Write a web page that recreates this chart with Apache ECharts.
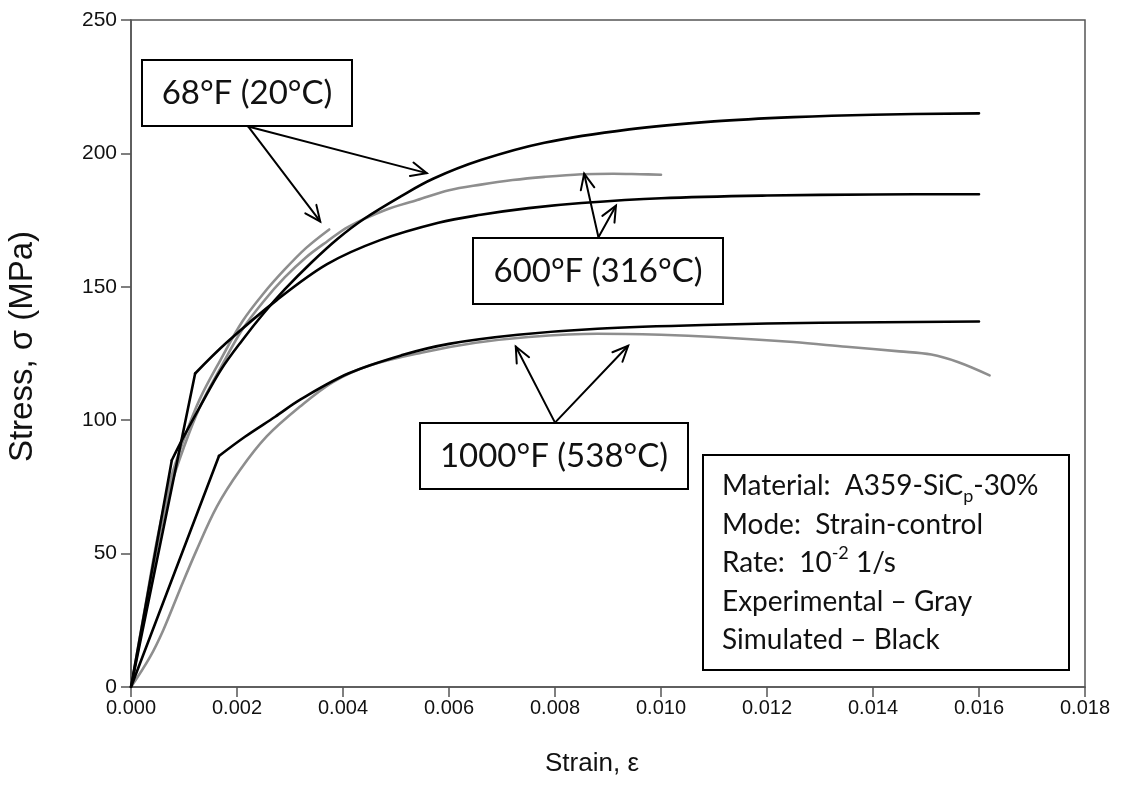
<!DOCTYPE html>
<html>
<head>
<meta charset="utf-8">
<title>Stress-strain curves, A359-SiCp-30%</title>
<script src="https://cdn.jsdelivr.net/npm/echarts@6/dist/echarts.min.js"></script>
<style>
  html, body { margin: 0; padding: 0; background: #fff; }
  #chart { width: 1123px; height: 804px; }
</style>
</head>
<body>
<div id="chart"></div>
<script>
// Strain (mm/mm) vs stress (MPa) at three temperatures.
// Simulated curves (black); the second point is the end of the elastic line.
const sim68 = [
  [0, 0], [0.00077, 85], [0.0010, 94], [0.0013, 105], [0.0017, 119], [0.0021, 130],
  [0.0025, 140], [0.0029, 149], [0.0034, 159], [0.0039, 168], [0.0044, 175.5],
  [0.0051, 184], [0.0057, 190.5], [0.0066, 197.5], [0.0078, 204], [0.0094, 209],
  [0.0110, 212], [0.0125, 213.6], [0.0140, 214.5], [0.0160, 215]
];
const sim600 = [
  [0, 0], [0.00121, 117.5], [0.0018, 129], [0.00275, 145], [0.0037, 158.5],
  [0.0047, 167.5], [0.0058, 174], [0.0066, 177], [0.0075, 179.5], [0.0085, 181.4],
  [0.0100, 183.2], [0.0120, 184.2], [0.0140, 184.6], [0.0160, 184.7]
];
const sim1000 = [
  [0, 0], [0.00166, 86.6], [0.00215, 93.8], [0.00272, 101.3], [0.0032, 107.8],
  [0.0041, 117.5], [0.0051, 124.3], [0.0060, 128.6], [0.0073, 132], [0.0088, 134.3],
  [0.0110, 135.8], [0.0130, 136.5], [0.0160, 137]
];

// Experimental curves (gray)
const exp68 = [
  [0, 0], [0.00025, 28], [0.0005, 56], [0.00075, 78], [0.0010, 93], [0.0013, 108],
  [0.0017, 123], [0.0021, 137], [0.0025, 147.5], [0.0029, 156.5], [0.0033, 164.5],
  [0.00374, 171.5]
];
const exp600 = [
  [0, 0], [0.00025, 26], [0.0005, 53], [0.00075, 75], [0.0010, 90], [0.0013, 105],
  [0.0017, 120], [0.0021, 134], [0.0025, 144.5], [0.0029, 153.5], [0.0033, 161],
  [0.0037, 167], [0.0041, 172.5], [0.0048, 178.8], [0.0054, 182.5], [0.0060, 186.2],
  [0.0066, 188.3], [0.0072, 190], [0.0078, 191.2], [0.0085, 192.2], [0.0091, 192.4],
  [0.0096, 192.2], [0.0100, 192]
];
const exp1000 = [
  [0, 0], [0.00036, 11.3], [0.00061, 21.4], [0.00092, 36.4], [0.00124, 51.4],
  [0.00162, 67.6], [0.00206, 81.4], [0.00256, 93.9], [0.00319, 105.1], [0.00381, 114.3],
  [0.0045, 120.5], [0.0055, 125.4], [0.0065, 129], [0.0075, 131.2], [0.0088, 132.4],
  [0.0100, 132], [0.0110, 131.2], [0.0125, 129.3], [0.0135, 127.5], [0.0145, 125.8],
  [0.0151, 124.6], [0.0156, 121.8], [0.0162, 116.8]
];

// Axis ranges and tick steps
const strainTicks = { min: 0, max: 0.018, step: 0.002 };
const stressTicks = { min: 0, max: 250, step: 50 };

// Temperature call-outs: label, and arrows as [start, tip] in [strain, stress]
const callouts = [
  { text: '68°F (20°C)', arrows: [
      [[0.00221, 210.1], [0.00357, 174.5]],
      [[0.00221, 210.1], [0.00558, 192.6]] ] },
  { text: '600°F (316°C)', arrows: [
      [[0.00882, 168.6], [0.00855, 192.4]],
      [[0.00882, 168.6], [0.00915, 180.4]] ] },
  { text: '1000°F (538°C)', arrows: [
      [[0.0080, 99.1], [0.00726, 127.6]],
      [[0.0080, 99.1], [0.00938, 127.9]] ] }
];

const infoLines = [
  'Material:  A359-SiC{sub|p}-30%',
  'Mode:  Strain-control',
  'Rate:  10{sup|-2} 1/s',
  'Experimental – Gray',
  'Simulated – Black'
];

const BLACK = '#000000';
const GRAY = '#8e8e8e';
const AXIS = '#555555';
const AXIS_FONT = '"Liberation Sans", Arial, sans-serif';
const NOTE_FONT = 'Lato, "Open Sans", sans-serif';

function line(name, data, color, smooth) {
  return {
    name, type: 'line', data, showSymbol: false, symbol: 'none',
    smooth, lineStyle: { color, width: 2.6, cap: 'round', join: 'round' },
    z: color === BLACK ? 3 : 2, silent: true, animation: false
  };
}

// A simulated curve: straight elastic segment, then a smooth hardening branch
function simulated(name, data) {
  return [
    line(name + ' (elastic)', data.slice(0, 2), BLACK, false),
    line(name, data.slice(1), BLACK, 0.35)
  ];
}

const chart = echarts.init(document.getElementById('chart'), null, { renderer: 'canvas' });

chart.setOption({
  backgroundColor: '#ffffff',
  animation: false,
  grid: {
    left: 131, right: 38, top: 20, bottom: 117,
    outerBoundsMode: 'none', containLabel: false,
    show: true, borderColor: AXIS, borderWidth: 1.5, backgroundColor: 'transparent'
  },
  xAxis: {
    type: 'value', min: strainTicks.min, max: strainTicks.max, interval: strainTicks.step,
    name: 'Strain, ε', nameLocation: 'middle', nameGap: 64,
    nameTextStyle: { fontFamily: AXIS_FONT, fontSize: 26, color: '#111', padding: [0, 32, 0, 0] },
    axisLine: { show: true, onZero: false, lineStyle: { color: AXIS, width: 1.5 } },
    axisTick: { show: true, inside: false, length: 10, lineStyle: { color: AXIS, width: 1.5 } },
    axisLabel: { fontFamily: AXIS_FONT, fontSize: 20, color: '#111', margin: 11,
      formatter: v => v.toFixed(3) },
    splitLine: { show: false }
  },
  yAxis: {
    type: 'value', min: stressTicks.min, max: stressTicks.max, interval: stressTicks.step,
    name: 'Stress, σ (MPa)', nameLocation: 'middle', nameGap: 92, nameRotate: 90,
    nameTextStyle: { fontFamily: AXIS_FONT, fontSize: 33, color: '#111', padding: [0, 0, 0, 14] },
    axisLine: { show: true, onZero: false, lineStyle: { color: AXIS, width: 1.5 } },
    axisTick: { show: true, inside: false, length: 10, lineStyle: { color: AXIS, width: 1.5 } },
    axisLabel: { fontFamily: AXIS_FONT, fontSize: 21, color: '#111', margin: 14 },
    splitLine: { show: false }
  },
  series: [
    line('68°F experimental', exp68, GRAY, 0.35),
    line('600°F experimental', exp600, GRAY, 0.35),
    line('1000°F experimental', exp1000, GRAY, 0.35),
    ...simulated('68°F simulated', sim68),
    ...simulated('600°F simulated', sim600),
    ...simulated('1000°F simulated', sim1000)
  ]
});

// Call-out boxes, arrows and the test-condition box
const boxRects = [
  { x: 142, y: 60, w: 210, h: 66, fs: 33 },
  { x: 473, y: 238, w: 250, h: 66, fs: 33 },
  { x: 420, y: 423, w: 268, h: 66, fs: 33 }
];

function arrowShapes(p0, p1) {
  const a = chart.convertToPixel({ gridIndex: 0 }, p0);
  const b = chart.convertToPixel({ gridIndex: 0 }, p1);
  const dx = b[0] - a[0], dy = b[1] - a[1];
  const len = Math.hypot(dx, dy);
  const ux = dx / len, uy = dy / len;
  const head = 17, ang = 0.42;
  const wing = s => {
    const c = Math.cos(s * ang), sn = Math.sin(s * ang);
    const rx = ux * c - uy * sn, ry = ux * sn + uy * c;
    return [b[0] - rx * head, b[1] - ry * head];
  };
  const style = { stroke: '#000', lineWidth: 2, fill: null, lineCap: 'round', lineJoin: 'miter' };
  return [
    { type: 'polyline', shape: { points: [a, b] }, style, z: 20, silent: true },
    { type: 'polyline', shape: { points: [wing(1), b, wing(-1)] }, style, z: 20, silent: true }
  ];
}

const elements = [];
callouts.forEach((c, i) => {
  c.arrows.forEach(ar => elements.push(...arrowShapes(ar[0], ar[1])));
  const r = boxRects[i];
  elements.push({
    type: 'rect', shape: { x: r.x, y: r.y, width: r.w, height: r.h },
    style: { fill: '#fff', stroke: '#000', lineWidth: 2 }, z: 21, silent: true
  });
  elements.push({
    type: 'text', x: r.x + r.w / 2, y: r.y + r.h / 2, z: 22, silent: true,
    style: { text: c.text, fontFamily: NOTE_FONT, fontSize: r.fs, fill: '#111',
      align: 'center', verticalAlign: 'middle' }
  });
});

elements.push({
  type: 'rect', shape: { x: 703, y: 455, width: 366, height: 215 },
  style: { fill: '#fff', stroke: '#000', lineWidth: 2 }, z: 21, silent: true
});
elements.push({
  type: 'text', x: 722, y: 467, z: 22, silent: true,
  style: {
    text: infoLines.join('\n'),
    fontFamily: NOTE_FONT, fontSize: 28, lineHeight: 38.5, fill: '#111',
    align: 'left', verticalAlign: 'top',
    rich: {
      sub: { fontFamily: NOTE_FONT, fontSize: 18, lineHeight: 16, verticalAlign: 'bottom', fill: '#111' },
      sup: { fontFamily: NOTE_FONT, fontSize: 18, lineHeight: 22, verticalAlign: 'top', fill: '#111' }
    }
  }
});

chart.setOption({ graphic: { elements } });
</script>
</body>
</html>
